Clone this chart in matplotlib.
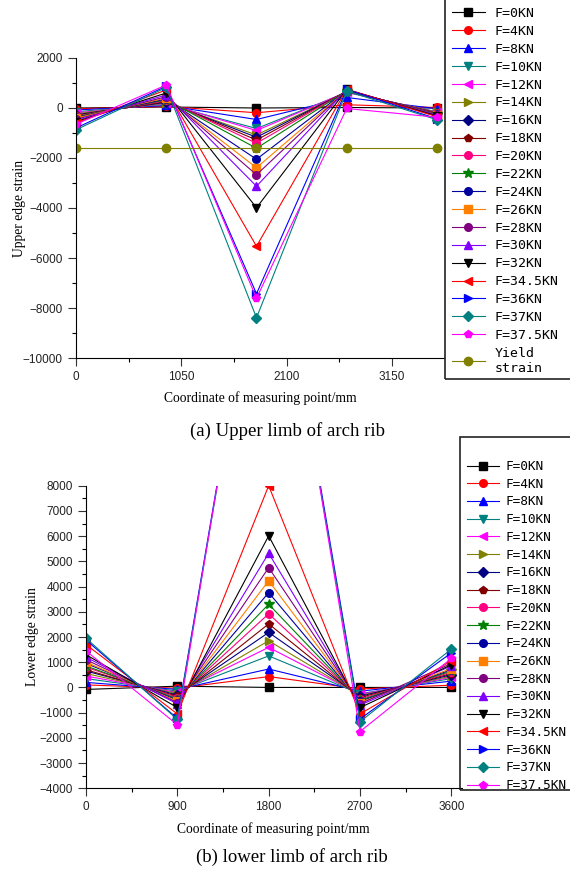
import matplotlib
matplotlib.use('Agg')
import matplotlib.pyplot as plt
from matplotlib.patches import Rectangle
from matplotlib.ticker import MultipleLocator

W, H = 570, 872

# measuring points (mm)
x_pts = [0, 900, 1800, 2700, 3600]

loads = ['F=0KN', 'F=4KN', 'F=8KN', 'F=10KN', 'F=12KN', 'F=14KN', 'F=16KN', 'F=18KN',
         'F=20KN', 'F=22KN', 'F=24KN', 'F=26KN', 'F=28KN', 'F=30KN', 'F=32KN',
         'F=34.5KN', 'F=36KN', 'F=37KN', 'F=37.5KN']

colors = ['#000000', '#ff0000', '#0000ff', '#008080', '#ff00ff', '#808000', '#000080',
          '#800000', '#ff0080', '#008000', '#0000a0', '#ff8000', '#800080', '#8000ff',
          '#000000', '#ff0000', '#0000ff', '#008080', '#ff00ff']
markers = ['s', 'o', '^', 'v', '<', '>', 'D', 'p', 'o', '*', 'o', 's', 'o', '^', 'v',
           '<', '>', 'D', 'p']

# upper edge strain, one row per load
upper = [
    [0, 40, 0, 20, 0],
    [-30, 60, -190, 130, 20],
    [-80, 100, -460, 420, -30],
    [-150, 150, -820, 620, -150],
    [-200, 180, -900, 640, -170],
    [-230, 200, -1080, 650, -180],
    [-270, 230, -1170, 660, -200],
    [-300, 260, -1280, 670, -210],
    [-330, 300, -1410, 680, -220],
    [-350, 330, -1610, 690, -240],
    [-380, 360, -2050, 700, -250],
    [-400, 400, -2390, 710, -270],
    [-450, 450, -2670, 720, -280],
    [-500, 520, -3130, 730, -300],
    [-550, 600, -3990, 740, -320],
    [-600, 720, -5530, 750, -350],
    [-800, 870, -7430, 740, -430],
    [-870, 820, -8390, 680, -470],
    [-650, 920, -7610, -20, -370],
]
yield_strain = [-1600, -1600, -1600, -1600, -1600]

# lower edge strain
lower = [
    [-80, 50, 0, 0, 0],
    [100, -30, 430, -60, 90],
    [200, -80, 730, -150, 250],
    [350, -150, 1250, -250, 350],
    [450, -200, 1590, -280, 400],
    [550, -250, 1850, -320, 450],
    [650, -300, 2180, -350, 500],
    [700, -350, 2520, -400, 550],
    [800, -400, 2920, -450, 600],
    [850, -450, 3300, -500, 650],
    [950, -500, 3760, -550, 700],
    [1000, -550, 4230, -600, 750],
    [1100, -600, 4750, -650, 950],
    [1200, -650, 5320, -700, 850],
    [1300, -800, 6010, -800, 900],
    [1700, -1050, 8000, -1050, 1050],
    [1880, -1230, 20100, -1250, 1370],
    [1950, -1270, 19900, -1360, 1520],
    [1450, -1480, 20300, -1750, 1150],
]

plt.rcParams['font.family'] = 'Liberation Sans'

fig = plt.figure(figsize=(W / 100, H / 100), dpi=100)


def fbox(l, t, r, b):
    # pixel box -> figure fraction
    return [l / W, 1 - b / H, (r - l) / W, (b - t) / H]


def style_axes(ax):
    ax.spines['top'].set_visible(False)
    ax.spines['right'].set_visible(False)
    ax.tick_params(which='major', direction='out', length=6, width=0.8, labelsize=8.5,
                   colors='#333333', labelcolor='#222222')
    ax.tick_params(which='minor', direction='out', length=3, width=0.8)


def draw_lines(ax, data):
    handles = []
    for i, row in enumerate(data):
        h, = ax.plot(x_pts, row, color=colors[i], marker=markers[i], lw=0.8,
                     ms=7 if markers[i] == '*' else 5.5, mfc=colors[i], mec=colors[i],
                     label=loads[i])
        handles.append(h)
    return handles


# (a) upper limb
ax1 = fig.add_axes(fbox(76, 58, 444, 358))
h1 = draw_lines(ax1, upper)
hy, = ax1.plot(x_pts, yield_strain, color='#808000', marker='o', lw=0.8, ms=6,
               label='Yield\nstrain')
ax1.set_xlim(0, 3670)
ax1.set_ylim(-10000, 2000)
ax1.xaxis.set_major_locator(MultipleLocator(1050))
ax1.xaxis.set_minor_locator(MultipleLocator(525))
ax1.yaxis.set_major_locator(MultipleLocator(2000))
ax1.yaxis.set_minor_locator(MultipleLocator(1000))
style_axes(ax1)
ax1.set_ylabel('Upper edge strain', family='Liberation Serif', fontsize=9.8, labelpad=-2)
ax1.set_xlabel('Coordinate of measuring point/mm', family='Liberation Serif',
               fontsize=9.8, labelpad=6)

leg1 = fig.legend(h1 + [hy], loads + ['Yield\nstrain'], loc='upper left',
                  bbox_to_anchor=(452 / W, 1 - 7 / H), frameon=False,
                  prop={'family': 'DejaVu Sans Mono', 'size': 9.5},
                  handlelength=2.5, handletextpad=0.7, labelspacing=0.37,
                  borderpad=0, borderaxespad=0)
fig.add_artist(Rectangle((445 / W, 1 - 379 / H), 200 / W, 400 / H,
                         transform=fig.transFigure, fill=False, lw=1.2,
                         edgecolor='#222222'))

fig.text(288 / W, 1 - 431 / H, '(a) Upper limb of arch rib', ha='center', va='center',
         family='Liberation Serif', fontsize=13.5)

# (b) lower limb
ax2 = fig.add_axes(fbox(86, 485.7, 461.5, 788.3))
h2 = draw_lines(ax2, lower)
ax2.set_xlim(0, 3700)
ax2.set_ylim(-4000, 8000)
ax2.xaxis.set_major_locator(MultipleLocator(900))
ax2.xaxis.set_minor_locator(MultipleLocator(450))
ax2.yaxis.set_major_locator(MultipleLocator(1000))
ax2.yaxis.set_minor_locator(MultipleLocator(500))
style_axes(ax2)
ax2.set_ylabel('Lower edge strain', family='Liberation Serif', fontsize=9.8, labelpad=0)
ax2.set_xlabel('Coordinate of measuring point/mm', family='Liberation Serif',
               fontsize=9.8, labelpad=6)

leg2 = fig.legend(h2, loads, loc='upper left',
                  bbox_to_anchor=(467 / W, 1 - 460 / H), frameon=False,
                  prop={'family': 'DejaVu Sans Mono', 'size': 9.2},
                  handlelength=2.5, handletextpad=0.55, labelspacing=0.37,
                  borderpad=0, borderaxespad=0)
fig.add_artist(Rectangle((460 / W, 1 - 790 / H), 200 / W, 353 / H,
                         transform=fig.transFigure, fill=False, lw=1.2,
                         edgecolor='#222222'))

fig.text(292 / W, 1 - 857 / H, '(b) lower limb of arch rib', ha='center', va='center',
         family='Liberation Serif', fontsize=13.5)

fig.savefig('out.png', dpi=100)
